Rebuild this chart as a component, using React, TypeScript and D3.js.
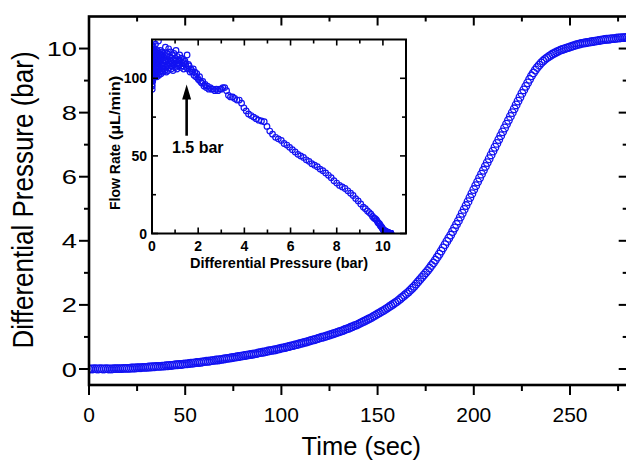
import React from 'react';
import * as d3 from 'd3';

// Main series: differential pressure (bar), one sample per second from t = 0 s
const SAMPLE_SEC = 1;
const pressureBar = [
  0.00,0.00,0.00,0.01,0.00,0.00,0.01,0.00,0.00,0.01,0.00,
  0.00,0.00,0.01,0.01,0.01,0.01,0.01,0.02,0.02,0.02,
  0.02,0.03,0.03,0.03,0.04,0.04,0.04,0.05,0.05,0.05,
  0.06,0.06,0.07,0.07,0.08,0.08,0.08,0.09,0.09,0.10,
  0.10,0.11,0.11,0.12,0.13,0.13,0.14,0.14,0.15,0.16,
  0.16,0.17,0.18,0.18,0.19,0.20,0.20,0.21,0.22,0.23,
  0.24,0.24,0.25,0.26,0.27,0.28,0.28,0.29,0.30,0.31,
  0.32,0.33,0.34,0.35,0.36,0.37,0.38,0.39,0.40,0.41,
  0.42,0.43,0.44,0.45,0.46,0.47,0.48,0.50,0.51,0.52,
  0.53,0.54,0.56,0.57,0.58,0.59,0.60,0.62,0.63,0.65,
  0.66,0.67,0.69,0.70,0.72,0.73,0.75,0.76,0.78,0.80,
  0.81,0.83,0.84,0.86,0.88,0.90,0.91,0.93,0.95,0.97,
  0.99,1.00,1.02,1.04,1.06,1.08,1.10,1.12,1.14,1.16,
  1.18,1.20,1.23,1.25,1.27,1.30,1.32,1.35,1.37,1.40,
  1.43,1.46,1.49,1.52,1.55,1.58,1.61,1.65,1.68,1.72,
  1.75,1.79,1.82,1.86,1.90,1.94,1.98,2.02,2.06,2.10,
  2.15,2.20,2.25,2.30,2.35,2.40,2.46,2.52,2.58,2.65,
  2.72,2.79,2.86,2.93,3.00,3.07,3.15,3.23,3.31,3.40,
  3.49,3.58,3.68,3.78,3.88,3.98,4.08,4.18,4.29,4.40,
  4.51,4.62,4.74,4.86,4.98,5.10,5.22,5.35,5.47,5.60,
  5.72,5.84,5.96,6.08,6.20,6.32,6.44,6.56,6.68,6.80,
  6.92,7.04,7.16,7.28,7.40,7.52,7.64,7.76,7.88,8.00,
  8.12,8.24,8.36,8.48,8.60,8.71,8.82,8.93,9.04,9.15,
  9.24,9.33,9.41,9.48,9.55,9.61,9.66,9.71,9.75,9.79,
  9.83,9.86,9.89,9.92,9.95,9.97,9.99,10.01,10.03,10.05,
  10.07,10.09,10.11,10.13,10.14,10.16,10.17,10.18,10.19,10.20,
  10.21,10.22,10.23,10.24,10.25,10.26,10.27,10.28,10.29,10.29,
  10.30,10.31,10.31,10.32,10.33,10.33,10.34,10.34,10.35,10.35,
];

// Inset series: flow rate (µL/min) at the same samples
const flowRate = [
  96,110,118,103,121,99,112,106,116,93,108,
  119,104,113,100,117,109,95,114,102,120,
  107,115,98,118,111,103,116,108,121,105,
  112,100,117,106,114,103,119,109,101,115,
  108,118,104,112,101,116,110,105,122,107,
  113,102,117,109,104,115,111,101,118,106,
  112,103,116,108,114,105,124,110,102,113,
  107,116,104,111,118,106,112,103,115,109,
  114,105,117,108,111,104,116,110,106,113,
  108,115,105,112,120,107,111,104,114,109,
  116,108,112,105,119,110,107,114,109,117,
  111,106,113,108,115,110,105,112,116,109,
  113,107,111,118,109,106,114,110,108,112,
  109,115,111,107,113,110,108,112,106,110,
  111,109,107,115,106,109,108,104,106,105,
  104,106,102,104,101,103,100,99,101,98,
  97,98,95,96,94,95,93,94,93,93,
  92,93,92,93,93,94,94,92,89,88,
  88,87,86,86,84,81,79,77,76,75,
  74,73,72.5,72,69,66,64,62,61,60,
  58,57,55.5,54,52.5,51,50,49,47.5,46.5,
  45,44,43,41.5,40.5,39,37.5,36,34,32.5,
  31,30,29,27.5,26,24.5,22.5,21,19,17,
  16,14.5,13.5,12.5,11,10,9.5,9,8,7,
  6.5,6,5,4.5,4,3.5,3,2.5,2,2,
  1.8,1.6,1.5,1.3,1.2,1.0,0.9,0.8,0.7,0.6,
  0.6,0.5,0.5,0.4,0.4,0.3,0.3,0.3,0.2,0.2,
  0.2,0.2,0.1,0.1,0.1,0.1,0.1,0.1,0.1,0.1,
];

const mainXMajor = [0, 50, 100, 150, 200, 250];
const mainXMinor = [25, 75, 125, 175, 225, 275];
const mainYMajor = [0, 2, 4, 6, 8, 10];
const mainYMinor = [1, 3, 5, 7, 9];
const insetXMajor = [0, 2, 4, 6, 8, 10];
const insetXMinor = [1, 3, 5, 7, 9];
const insetYMajor = [0, 50, 100];
const insetYMinor = [25, 75];

const arrowAt = 1.5;       // bar
const arrowFrom = 63;      // µL/min
const arrowTo = 96;        // µL/min
const arrowLabel = '1.5 bar';

const BLUE = '#1212f2';
const FONT = '"Liberation Sans", Arial, Helvetica, sans-serif';

export default function App() {
  const x = d3.scaleLinear().domain([0, 280]).range([89, 627.7]);
  const y = d3.scaleLinear().domain([-0.5, 11]).range([385, 16.5]);
  const ix = d3.scaleLinear().domain([0, 11]).range([152, 406]);
  const iy = d3.scaleLinear().domain([0, 125]).range([233.5, 39.5]);

  const mainPts = pressureBar.map((p, i) => ({ t: i * SAMPLE_SEC, p }));
  const insetPts = pressureBar.map((p, i) => ({ p, f: flowRate[i] }));

  const [x0, x1] = x.range();
  const [yB, yT] = y.range();
  const [ix0, ix1] = ix.range();
  const [iyB, iyT] = iy.range();

  return (
    <svg width={626} height={463} style={{ position: 'absolute', left: 0, top: 0, background: '#fff' }}
      fontFamily={FONT}>
      <defs>
        <clipPath id="mainClip"><rect x={x0} y={yT} width={x1 - x0} height={yB - yT} /></clipPath>
        <clipPath id="insetClip"><rect x={ix0} y={iyT} width={ix1 - ix0} height={iyB - iyT} /></clipPath>
      </defs>

      {/* main data */}
      <g clipPath="url(#mainClip)">
        {mainPts.map((d, i) => (
          <circle key={i} cx={x(d.t)} cy={y(d.p)} r={3.8} fill="none" stroke={BLUE} strokeWidth={1.3} />
        ))}
      </g>

      {/* main frame */}
      <rect x={x0} y={yT} width={x1 - x0} height={yB - yT} fill="none" stroke="#000" strokeWidth={2.6} />

      {/* main ticks */}
      <g stroke="#000" strokeWidth={2}>
        {mainXMajor.map(v => <line key={'bx' + v} x1={x(v)} x2={x(v)} y1={yB} y2={yB + 10} />)}
        {mainXMinor.map(v => <line key={'bxm' + v} x1={x(v)} x2={x(v)} y1={yB} y2={yB + 6} />)}
        {mainXMajor.map(v => <line key={'tx' + v} x1={x(v)} x2={x(v)} y1={yT} y2={yT + 9} />)}
        {mainXMinor.map(v => <line key={'txm' + v} x1={x(v)} x2={x(v)} y1={yT} y2={yT + 5} />)}
        {mainYMajor.map(v => <line key={'ly' + v} x1={x0 - 10} x2={x0} y1={y(v)} y2={y(v)} />)}
        {mainYMinor.map(v => <line key={'lym' + v} x1={x0 - 5} x2={x0} y1={y(v)} y2={y(v)} />)}
        {mainYMajor.map(v => <line key={'ry' + v} x1={x1 - 9} x2={x1} y1={y(v)} y2={y(v)} />)}
        {mainYMinor.map(v => <line key={'rym' + v} x1={x1 - 5} x2={x1} y1={y(v)} y2={y(v)} />)}
      </g>

      {/* main tick labels */}
      {mainXMajor.map(v => (
        <text key={'xl' + v} x={x(v)} y={421.5} fontSize={21} textAnchor="middle" fill="#000">{v}</text>
      ))}
      {mainYMajor.map(v => (
        <text key={'yl' + v} transform={`translate(77,${y(v)}) scale(1.3,1)`} dy="0.36em" fontSize={21}
          textAnchor="end" fill="#000">{v}</text>
      ))}

      {/* main axis titles */}
      <text x={(x0 + 627.7) / 2 + 3} y={455} fontSize={25.5} textAnchor="middle" fill="#000">Time (sec)</text>
      <text transform={`translate(33,200) rotate(-90) scale(1,1.1)`} fontSize={26} textAnchor="middle" fill="#000">
        Differential Pressure (bar)
      </text>

      {/* inset data */}
      <g clipPath="url(#insetClip)">
        {insetPts.map((d, i) => (
          <circle key={i} cx={ix(d.p)} cy={iy(d.f)} r={2.8} fill="none" stroke={BLUE} strokeWidth={1.2} />
        ))}
      </g>

      {/* inset frame */}
      <rect x={ix0} y={iyT} width={ix1 - ix0} height={iyB - iyT} fill="none" stroke="#000" strokeWidth={2} />
      <g stroke="#000" strokeWidth={1.6}>
        {insetXMajor.map(v => <line key={'ibx' + v} x1={ix(v)} x2={ix(v)} y1={iyB} y2={iyB - 6} />)}
        {insetXMinor.map(v => <line key={'ibxm' + v} x1={ix(v)} x2={ix(v)} y1={iyB} y2={iyB - 4} />)}
        {insetXMajor.map(v => <line key={'itx' + v} x1={ix(v)} x2={ix(v)} y1={iyT} y2={iyT + 6} />)}
        {insetXMinor.map(v => <line key={'itxm' + v} x1={ix(v)} x2={ix(v)} y1={iyT} y2={iyT + 4} />)}
        {insetYMajor.map(v => <line key={'ily' + v} x1={ix0} x2={ix0 + 6} y1={iy(v)} y2={iy(v)} />)}
        {insetYMinor.map(v => <line key={'ilym' + v} x1={ix0} x2={ix0 + 4} y1={iy(v)} y2={iy(v)} />)}
        {insetYMajor.map(v => <line key={'iry' + v} x1={ix1 - 6} x2={ix1} y1={iy(v)} y2={iy(v)} />)}
        {insetYMinor.map(v => <line key={'irym' + v} x1={ix1 - 4} x2={ix1} y1={iy(v)} y2={iy(v)} />)}
      </g>

      {/* inset tick labels */}
      {insetXMajor.map(v => (
        <text key={'ixl' + v} x={ix(v)} y={251} fontSize={14} fontWeight="bold" textAnchor="middle" fill="#000">{v}</text>
      ))}
      {insetYMajor.map(v => (
        <text key={'iyl' + v} x={147} y={iy(v)} dy="0.36em" fontSize={14} fontWeight="bold" textAnchor="end" fill="#000">{v}</text>
      ))}

      {/* inset axis titles */}
      <text x={(ix0 + ix1) / 2} y={268} fontSize={14.5} fontWeight="bold" textAnchor="middle" fill="#000">
        Differential Pressure (bar)
      </text>
      <text transform={`translate(120,210) rotate(-90)`} fontSize={14} fontWeight="bold" textAnchor="start" fill="#000">
        <tspan>Flow Rate</tspan>
        <tspan dx={4} textLength={64} lengthAdjust="spacingAndGlyphs">(µL/min)</tspan>
      </text>

      {/* annotation arrow */}
      <line x1={ix(arrowAt)} x2={ix(arrowAt)} y1={iy(arrowFrom)} y2={iy(arrowTo) + 12} stroke="#000" strokeWidth={2.6} />
      <path d={`M${ix(arrowAt)},${iy(arrowTo)} L${ix(arrowAt) - 4.5},${iy(arrowTo) + 15} L${ix(arrowAt) + 4.5},${iy(arrowTo) + 15} Z`} fill="#000" />
      <text x={172} y={153.3} fontSize={16} fontWeight="bold" fill="#000">{arrowLabel}</text>
    </svg>
  );
}
